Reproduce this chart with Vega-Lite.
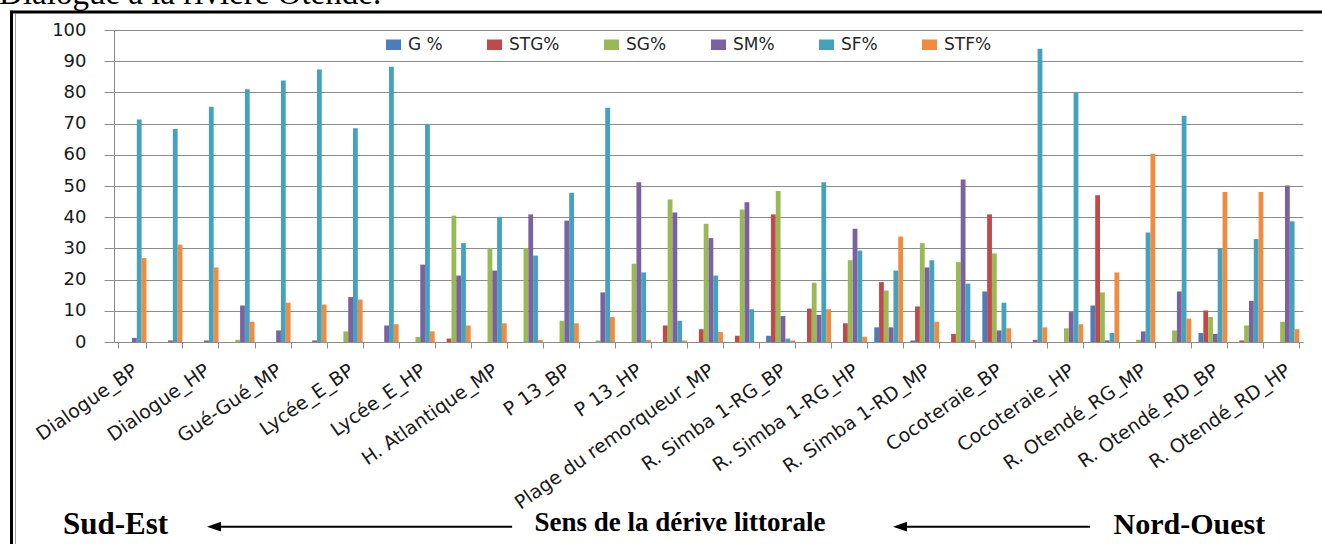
{
  "$schema": "https://vega.github.io/schema/vega-lite/v6.json",
  "autosize": {"type": "none"},
  "width": 1189,
  "height": 312,
  "padding": {"left": 114, "top": 30, "right": 19, "bottom": 202},
  "background": "white",
  "config": {
    "view": {"stroke": null},
    "legend": {
      "orient": "none", "legendX": 271, "legendY": 6, "direction": "horizontal", "columns": 6,
      "columnPadding": 43, "padding": 0, "title": null,
      "labelFont": "DejaVu Sans", "labelFontSize": 17, "labelColor": "#262626", "labelOffset": 6,
      "symbolType": "M-1,-0.7H1V0.7H-1Z", "symbolSize": 225, "symbolStrokeWidth": 0
    }
  },
  "datasets": {
    "granulo": [
      {"site": "Dialogue_BP", "param": "SM%", "value": 1.3},
      {"site": "Dialogue_BP", "param": "SF%", "value": 71.3},
      {"site": "Dialogue_BP", "param": "STF%", "value": 26.9},
      {"site": "Dialogue_MP", "param": "SM%", "value": 0.5},
      {"site": "Dialogue_MP", "param": "SF%", "value": 68.3},
      {"site": "Dialogue_MP", "param": "STF%", "value": 31.2},
      {"site": "Dialogue_HP", "param": "SM%", "value": 0.5},
      {"site": "Dialogue_HP", "param": "SF%", "value": 75.4},
      {"site": "Dialogue_HP", "param": "STF%", "value": 23.9},
      {"site": "Gué-Gué_BP", "param": "SG%", "value": 0.7},
      {"site": "Gué-Gué_BP", "param": "SM%", "value": 11.7},
      {"site": "Gué-Gué_BP", "param": "SF%", "value": 81.0},
      {"site": "Gué-Gué_BP", "param": "STF%", "value": 6.5},
      {"site": "Gué-Gué_MP", "param": "SM%", "value": 3.7},
      {"site": "Gué-Gué_MP", "param": "SF%", "value": 83.8},
      {"site": "Gué-Gué_MP", "param": "STF%", "value": 12.6},
      {"site": "Gué-Gué_HP", "param": "SM%", "value": 0.5},
      {"site": "Gué-Gué_HP", "param": "SF%", "value": 87.3},
      {"site": "Gué-Gué_HP", "param": "STF%", "value": 12.0},
      {"site": "Lycée_E_BP", "param": "SG%", "value": 3.4},
      {"site": "Lycée_E_BP", "param": "SM%", "value": 14.4},
      {"site": "Lycée_E_BP", "param": "SF%", "value": 68.5},
      {"site": "Lycée_E_BP", "param": "STF%", "value": 13.6},
      {"site": "Lycée_E_MP", "param": "SM%", "value": 5.3},
      {"site": "Lycée_E_MP", "param": "SF%", "value": 88.2},
      {"site": "Lycée_E_MP", "param": "STF%", "value": 5.7},
      {"site": "Lycée_E_HP", "param": "SG%", "value": 1.6},
      {"site": "Lycée_E_HP", "param": "SM%", "value": 24.8},
      {"site": "Lycée_E_HP", "param": "SF%", "value": 69.9},
      {"site": "Lycée_E_HP", "param": "STF%", "value": 3.4},
      {"site": "H. Atlantique_BP", "param": "STG%", "value": 1.1},
      {"site": "H. Atlantique_BP", "param": "SG%", "value": 40.5},
      {"site": "H. Atlantique_BP", "param": "SM%", "value": 21.3},
      {"site": "H. Atlantique_BP", "param": "SF%", "value": 31.7},
      {"site": "H. Atlantique_BP", "param": "STF%", "value": 5.3},
      {"site": "H. Atlantique_MP", "param": "SG%", "value": 30.1},
      {"site": "H. Atlantique_MP", "param": "SM%", "value": 22.9},
      {"site": "H. Atlantique_MP", "param": "SF%", "value": 40.1},
      {"site": "H. Atlantique_MP", "param": "STF%", "value": 6.0},
      {"site": "H. Atlantique_HP", "param": "SG%", "value": 30.1},
      {"site": "H. Atlantique_HP", "param": "SM%", "value": 40.9},
      {"site": "H. Atlantique_HP", "param": "SF%", "value": 27.7},
      {"site": "H. Atlantique_HP", "param": "STF%", "value": 0.7},
      {"site": "P 13_BP", "param": "SG%", "value": 6.8},
      {"site": "P 13_BP", "param": "SM%", "value": 38.9},
      {"site": "P 13_BP", "param": "SF%", "value": 47.8},
      {"site": "P 13_BP", "param": "STF%", "value": 6.0},
      {"site": "P 13_MP", "param": "SG%", "value": 0.5},
      {"site": "P 13_MP", "param": "SM%", "value": 15.9},
      {"site": "P 13_MP", "param": "SF%", "value": 75.1},
      {"site": "P 13_MP", "param": "STF%", "value": 8.0},
      {"site": "P 13_HP", "param": "SG%", "value": 25.1},
      {"site": "P 13_HP", "param": "SM%", "value": 51.2},
      {"site": "P 13_HP", "param": "SF%", "value": 22.3},
      {"site": "P 13_HP", "param": "STF%", "value": 0.7},
      {"site": "Plage du remorqueur_BP", "param": "STG%", "value": 5.3},
      {"site": "Plage du remorqueur_BP", "param": "SG%", "value": 45.7},
      {"site": "Plage du remorqueur_BP", "param": "SM%", "value": 41.5},
      {"site": "Plage du remorqueur_BP", "param": "SF%", "value": 6.8},
      {"site": "Plage du remorqueur_BP", "param": "STF%", "value": 0.5},
      {"site": "Plage du remorqueur_MP", "param": "STG%", "value": 4.1},
      {"site": "Plage du remorqueur_MP", "param": "SG%", "value": 37.9},
      {"site": "Plage du remorqueur_MP", "param": "SM%", "value": 33.3},
      {"site": "Plage du remorqueur_MP", "param": "SF%", "value": 21.3},
      {"site": "Plage du remorqueur_MP", "param": "STF%", "value": 3.2},
      {"site": "Plage du remorqueur_HP", "param": "STG%", "value": 2.0},
      {"site": "Plage du remorqueur_HP", "param": "SG%", "value": 42.5},
      {"site": "Plage du remorqueur_HP", "param": "SM%", "value": 44.8},
      {"site": "Plage du remorqueur_HP", "param": "SF%", "value": 10.5},
      {"site": "R. Simba 1-RG_BP", "param": "G %", "value": 2.0},
      {"site": "R. Simba 1-RG_BP", "param": "STG%", "value": 40.9},
      {"site": "R. Simba 1-RG_BP", "param": "SG%", "value": 48.4},
      {"site": "R. Simba 1-RG_BP", "param": "SM%", "value": 8.3},
      {"site": "R. Simba 1-RG_BP", "param": "SF%", "value": 1.1},
      {"site": "R. Simba 1-RG_BP", "param": "STF%", "value": 0.5},
      {"site": "R. Simba 1-RG_MP", "param": "STG%", "value": 10.7},
      {"site": "R. Simba 1-RG_MP", "param": "SG%", "value": 19.0},
      {"site": "R. Simba 1-RG_MP", "param": "SM%", "value": 8.7},
      {"site": "R. Simba 1-RG_MP", "param": "SF%", "value": 51.2},
      {"site": "R. Simba 1-RG_MP", "param": "STF%", "value": 10.5},
      {"site": "R. Simba 1-RG_HP", "param": "STG%", "value": 6.0},
      {"site": "R. Simba 1-RG_HP", "param": "SG%", "value": 26.2},
      {"site": "R. Simba 1-RG_HP", "param": "SM%", "value": 36.3},
      {"site": "R. Simba 1-RG_HP", "param": "SF%", "value": 29.3},
      {"site": "R. Simba 1-RG_HP", "param": "STF%", "value": 1.7},
      {"site": "R. Simba 1-RD_BP", "param": "G %", "value": 4.7},
      {"site": "R. Simba 1-RD_BP", "param": "STG%", "value": 19.2},
      {"site": "R. Simba 1-RD_BP", "param": "SG%", "value": 16.5},
      {"site": "R. Simba 1-RD_BP", "param": "SM%", "value": 4.7},
      {"site": "R. Simba 1-RD_BP", "param": "SF%", "value": 22.9},
      {"site": "R. Simba 1-RD_BP", "param": "STF%", "value": 33.8},
      {"site": "R. Simba 1-RD_MP", "param": "G %", "value": 0.5},
      {"site": "R. Simba 1-RD_MP", "param": "STG%", "value": 11.4},
      {"site": "R. Simba 1-RD_MP", "param": "SG%", "value": 31.7},
      {"site": "R. Simba 1-RD_MP", "param": "SM%", "value": 23.9},
      {"site": "R. Simba 1-RD_MP", "param": "SF%", "value": 26.2},
      {"site": "R. Simba 1-RD_MP", "param": "STF%", "value": 6.5},
      {"site": "R. Simba 1-RD_HP", "param": "STG%", "value": 2.6},
      {"site": "R. Simba 1-RD_HP", "param": "SG%", "value": 25.6},
      {"site": "R. Simba 1-RD_HP", "param": "SM%", "value": 52.1},
      {"site": "R. Simba 1-RD_HP", "param": "SF%", "value": 18.7},
      {"site": "R. Simba 1-RD_HP", "param": "STF%", "value": 0.7},
      {"site": "Cocoteraie_BP", "param": "G %", "value": 16.2},
      {"site": "Cocoteraie_BP", "param": "STG%", "value": 40.9},
      {"site": "Cocoteraie_BP", "param": "SG%", "value": 28.4},
      {"site": "Cocoteraie_BP", "param": "SM%", "value": 3.7},
      {"site": "Cocoteraie_BP", "param": "SF%", "value": 12.6},
      {"site": "Cocoteraie_BP", "param": "STF%", "value": 4.4},
      {"site": "Cocoteraie_MP", "param": "SM%", "value": 0.7},
      {"site": "Cocoteraie_MP", "param": "SF%", "value": 94.0},
      {"site": "Cocoteraie_MP", "param": "STF%", "value": 4.7},
      {"site": "Cocoteraie_HP", "param": "SG%", "value": 4.4},
      {"site": "Cocoteraie_HP", "param": "SM%", "value": 9.6},
      {"site": "Cocoteraie_HP", "param": "SF%", "value": 79.9},
      {"site": "Cocoteraie_HP", "param": "STF%", "value": 5.7},
      {"site": "R. Otendé_RG_BP", "param": "G %", "value": 11.7},
      {"site": "R. Otendé_RG_BP", "param": "STG%", "value": 47.0},
      {"site": "R. Otendé_RG_BP", "param": "SG%", "value": 15.9},
      {"site": "R. Otendé_RG_BP", "param": "SM%", "value": 0.5},
      {"site": "R. Otendé_RG_BP", "param": "SF%", "value": 2.9},
      {"site": "R. Otendé_RG_BP", "param": "STF%", "value": 22.3},
      {"site": "R. Otendé_RG_MP", "param": "SG%", "value": 0.7},
      {"site": "R. Otendé_RG_MP", "param": "SM%", "value": 3.4},
      {"site": "R. Otendé_RG_MP", "param": "SF%", "value": 35.1},
      {"site": "R. Otendé_RG_MP", "param": "STF%", "value": 60.3},
      {"site": "R. Otendé_RG_HP", "param": "SG%", "value": 3.7},
      {"site": "R. Otendé_RG_HP", "param": "SM%", "value": 16.2},
      {"site": "R. Otendé_RG_HP", "param": "SF%", "value": 72.5},
      {"site": "R. Otendé_RG_HP", "param": "STF%", "value": 7.5},
      {"site": "R. Otendé_RD_BP", "param": "G %", "value": 2.9},
      {"site": "R. Otendé_RD_BP", "param": "STG%", "value": 10.1},
      {"site": "R. Otendé_RD_BP", "param": "SG%", "value": 8.0},
      {"site": "R. Otendé_RD_BP", "param": "SM%", "value": 2.6},
      {"site": "R. Otendé_RD_BP", "param": "SF%", "value": 30.1},
      {"site": "R. Otendé_RD_BP", "param": "STF%", "value": 48.1},
      {"site": "R. Otendé_RD_MP", "param": "STG%", "value": 0.5},
      {"site": "R. Otendé_RD_MP", "param": "SG%", "value": 5.3},
      {"site": "R. Otendé_RD_MP", "param": "SM%", "value": 13.2},
      {"site": "R. Otendé_RD_MP", "param": "SF%", "value": 33.0},
      {"site": "R. Otendé_RD_MP", "param": "STF%", "value": 48.1},
      {"site": "R. Otendé_RD_HP", "param": "SG%", "value": 6.5},
      {"site": "R. Otendé_RD_HP", "param": "SM%", "value": 50.2},
      {"site": "R. Otendé_RD_HP", "param": "SF%", "value": 38.7},
      {"site": "R. Otendé_RD_HP", "param": "STF%", "value": 4.1}
    ]
  },
  "resolve": {"scale": {"x": "independent", "y": "independent"}},
  "layer": [
    {
      "data": {"name": "granulo"},
      "mark": {"type": "bar"},
      "encoding": {
        "x": {
          "field": "site", "type": "nominal", "sort": null,
          "scale": {"paddingInner": 0.2, "paddingOuter": 0.1},
          "axis": {
            "title": null, "labelAngle": -35, "labelAlign": "right", "labelBaseline": "middle",
            "labelFont": "DejaVu Sans", "labelFontSize": 19, "labelColor": "#1a1a1a", "labelLimit": 400,
            "labelPadding": 20, "labelOffset": 3,
            "tickBand": "extent", "tickSize": 6, "tickColor": "#8c8c8c", "domainColor": "#8c8c8c",
            "labelExpr": "round(datum.index * 32) % 2 == 1 ? '' : datum.label"
          }
        },
        "xOffset": {
          "field": "param", "type": "nominal",
          "scale": {"domain": ["G %", "STG%", "SG%", "SM%", "SF%", "STF%"], "paddingInner": 0, "paddingOuter": 0}
        },
        "y": {
          "field": "value", "type": "quantitative",
          "scale": {"domain": [0, 100], "nice": false},
          "axis": {
            "title": null, "tickCount": 10, "grid": true, "gridColor": "#8c8c8c",
            "tickSize": 10, "tickColor": "#8c8c8c", "domainColor": "#8c8c8c",
            "labelFont": "DejaVu Sans", "labelFontSize": 18, "labelColor": "#1a1a1a", "labelPadding": 18
          }
        },
        "color": {
          "field": "param", "type": "nominal",
          "scale": {
            "domain": ["G %", "STG%", "SG%", "SM%", "SF%", "STF%"],
            "range": ["#4a7ebb", "#be4b48", "#98b954", "#7d60a0", "#45a2bd", "#ef8c40"]
          }
        }
      }
    },
    {
      "data": {"values": [{"label": "Dialogue à la rivière Otendé."}]},
      "mark": {"type": "text", "font": "Liberation Serif", "fontSize": 33, "align": "left", "baseline": "alphabetic", "color": "black"},
      "encoding": {
        "text": {"field": "label"},
        "x": {"datum": -3.19, "type": "quantitative", "scale": {"domain": [0, 33]}, "axis": null},
        "y": {"datum": 108.2, "type": "quantitative", "scale": {"domain": [0, 100]}, "axis": null}
      }
    },
    {
      "data": {"values": [{}]},
      "mark": {"type": "rule", "color": "black", "strokeWidth": 3},
      "encoding": {
        "x": {"datum": -2.886, "type": "quantitative", "scale": {"domain": [0, 33]}, "axis": null},
        "x2": {"datum": 33.6},
        "y": {"datum": 105.77, "type": "quantitative", "scale": {"domain": [0, 100]}, "axis": null}
      }
    },
    {
      "data": {"values": [{}]},
      "mark": {"type": "rule", "color": "black", "strokeWidth": 3},
      "encoding": {
        "x": {"datum": -2.845, "type": "quantitative", "scale": {"domain": [0, 33]}, "axis": null},
        "y": {"datum": 106.2, "type": "quantitative", "scale": {"domain": [0, 100]}, "axis": null},
        "y2": {"datum": -65}
      }
    },
    {
      "data": {"values": [{}]},
      "mark": {"type": "rule", "color": "#9a9a9a", "strokeWidth": 1},
      "encoding": {
        "x": {"datum": -2.735, "type": "quantitative", "scale": {"domain": [0, 33]}, "axis": null},
        "y": {"datum": 105.2, "type": "quantitative", "scale": {"domain": [0, 100]}, "axis": null},
        "y2": {"datum": -65}
      }
    },
    {
      "data": {"values": [{}]},
      "mark": {"type": "rule", "color": "black", "strokeWidth": 2},
      "encoding": {
        "x": {"datum": 2.7, "type": "quantitative", "scale": {"domain": [0, 33]}, "axis": null},
        "x2": {"datum": 11.05},
        "y": {"datum": -59.2, "type": "quantitative", "scale": {"domain": [0, 100]}, "axis": null}
      }
    },
    {
      "data": {"values": [{}]},
      "mark": {"type": "rule", "color": "black", "strokeWidth": 2},
      "encoding": {
        "x": {"datum": 21.75, "type": "quantitative", "scale": {"domain": [0, 33]}, "axis": null},
        "x2": {"datum": 27.09},
        "y": {"datum": -59.2, "type": "quantitative", "scale": {"domain": [0, 100]}, "axis": null}
      }
    },
    {
      "data": {"values": [{"tip": "gauche"}]},
      "mark": {"type": "point", "shape": "M-1,0L1,-0.7L1,0.7Z", "filled": true, "color": "black", "opacity": 1, "size": 196},
      "encoding": {
        "x": {"datum": 2.775, "type": "quantitative", "scale": {"domain": [0, 33]}, "axis": null},
        "y": {"datum": -59.2, "type": "quantitative", "scale": {"domain": [0, 100]}, "axis": null}
      }
    },
    {
      "data": {"values": [{"tip": "gauche"}]},
      "mark": {"type": "point", "shape": "M-1,0L1,-0.7L1,0.7Z", "filled": true, "color": "black", "opacity": 1, "size": 196},
      "encoding": {
        "x": {"datum": 21.815, "type": "quantitative", "scale": {"domain": [0, 33]}, "axis": null},
        "y": {"datum": -59.2, "type": "quantitative", "scale": {"domain": [0, 100]}, "axis": null}
      }
    },
    {
      "data": {"values": [{"label": "Sud-Est"}]},
      "mark": {"type": "text", "font": "Liberation Serif", "fontWeight": "bold", "fontSize": 31, "align": "left", "baseline": "alphabetic", "color": "black"},
      "encoding": {
        "text": {"field": "label"},
        "x": {"datum": -1.415, "type": "quantitative", "scale": {"domain": [0, 33]}, "axis": null},
        "y": {"datum": -61.5, "type": "quantitative", "scale": {"domain": [0, 100]}, "axis": null}
      }
    },
    {
      "data": {"values": [{"label": "Sens de la dérive littorale"}]},
      "mark": {"type": "text", "font": "Liberation Serif", "fontWeight": "bold", "fontSize": 27, "align": "center", "baseline": "alphabetic", "color": "black"},
      "encoding": {
        "text": {"field": "label"},
        "x": {"datum": 15.71, "type": "quantitative", "scale": {"domain": [0, 33]}, "axis": null},
        "y": {"datum": -60.6, "type": "quantitative", "scale": {"domain": [0, 100]}, "axis": null}
      }
    },
    {
      "data": {"values": [{"label": "Nord-Ouest"}]},
      "mark": {"type": "text", "font": "Liberation Serif", "fontWeight": "bold", "fontSize": 30, "align": "right", "baseline": "alphabetic", "color": "black"},
      "encoding": {
        "text": {"field": "label"},
        "x": {"datum": 31.95, "type": "quantitative", "scale": {"domain": [0, 33]}, "axis": null},
        "y": {"datum": -61.5, "type": "quantitative", "scale": {"domain": [0, 100]}, "axis": null}
      }
    }
  ]
}
